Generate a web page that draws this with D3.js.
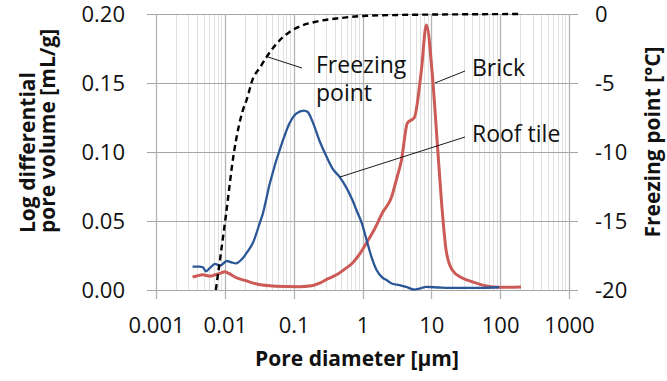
<!DOCTYPE html>
<html><head><meta charset="utf-8">
<script src="https://cdn.jsdelivr.net/npm/d3@7"></script>
<style>
html,body{margin:0;padding:0;background:#fff;}
svg{display:block;font-family:"Open Sans",sans-serif;}
</style></head>
<body>
<svg id="c" width="667" height="381"></svg>
<script>
// ---- data (pore diameter in µm) ----
const roofTileD = [0.0034,0.0043,0.0048,0.0053,0.0061,0.0072,0.0085,0.0107,0.0126,0.0144,0.0182,0.0215,0.0255,0.0322,0.0355,0.0449,0.0693,0.0875,0.110,0.140,0.160,0.188,0.238,0.301,0.367,0.464,0.586,0.716,0.847,0.968,1.18,1.35,1.60,1.95,2.23,2.72,3.44,4.34,5.67,6.70,8.47,13.1,23.0,49.6,96.8];
const roofTileV = [0.017,0.017,0.0165,0.0135,0.016,0.019,0.0176,0.021,0.020,0.0193,0.023,0.028,0.034,0.0486,0.055,0.077,0.108,0.121,0.128,0.130,0.129,0.122,0.108,0.0965,0.088,0.082,0.074,0.065,0.056,0.049,0.034,0.024,0.0145,0.009,0.0072,0.0045,0.0036,0.0022,0.0003,0.001,0.0022,0.0018,0.0015,0.0015,0.002];

const brickD = [0.0034,0.0039,0.0048,0.0061,0.0072,0.0085,0.010,0.0114,0.0149,0.0195,0.0291,0.0449,0.0741,0.122,0.182,0.238,0.311,0.420,0.548,0.716,0.906,1.14,1.49,1.95,2.63,3.11,3.68,4.49,5.67,7.16,8.47,10.3,12.2,14.0,16.5,20.1,28.1,39.3,62.7,96.8,201];
const brickV = [0.0094,0.0102,0.011,0.0101,0.011,0.012,0.0133,0.012,0.0087,0.007,0.0043,0.003,0.0025,0.0024,0.003,0.005,0.008,0.011,0.015,0.0196,0.026,0.034,0.044,0.056,0.067,0.080,0.094,0.121,0.125,0.159,0.192,0.157,0.1065,0.065,0.028,0.0145,0.0087,0.006,0.003,0.002,0.0022];

const freezeD = [0.0074,0.0103,0.0135,0.0182,0.0208,0.0255,0.0322,0.0406,0.0627,0.0875,0.122,0.215,0.464,1.14,3.44,18.2,188];
const freezeT = [-20,-14.7,-10.1,-7.0,-6.2,-4.7,-3.9,-3.1,-1.9,-1.3,-0.9,-0.55,-0.3,-0.13,-0.07,-0.03,0];

const xTicks = [0.001,0.01,0.1,1,10,100,1000];
const xTickLabels = ["0.001","0.01","0.1","1","10","100","1000"];
const yLeftTicks = [0,0.05,0.10,0.15,0.20];
const yLeftLabels = ["0.00","0.05","0.10","0.15","0.20"];
const yRightTicks = [-20,-15,-10,-5,0];
const yRightLabels = ["-20","-15","-10","-5","0"];

// ---- layout ----
const L=156, R=569, T=14, B=290;
const svg = d3.select("#c");
const x = d3.scaleLog().domain([0.001,1000]).range([L,R]);
const y = d3.scaleLinear().domain([0,0.2]).range([B,T]);
const yR = d3.scaleLinear().domain([-20,0]).range([B,T]);

// minor vertical gridlines
const minor=[];
for(let e=-3;e<3;e++){for(let m=2;m<=9;m++){minor.push(m*Math.pow(10,e));}}
svg.append("g").selectAll("line").data(minor).join("line")
  .attr("x1",d=>x(d)).attr("x2",d=>x(d)).attr("y1",T).attr("y2",B)
  .attr("stroke","#e0e0e0").attr("stroke-width",1).attr("shape-rendering","crispEdges");
// major horizontal gridlines
svg.append("g").selectAll("line").data(yLeftTicks).join("line")
  .attr("x1",L-9).attr("x2",R+9).attr("y1",d=>Math.round(y(d))+0.5).attr("y2",d=>Math.round(y(d))+0.5)
  .attr("stroke","#a6a6a6").attr("stroke-width",1);
// major vertical gridlines
svg.append("g").selectAll("line").data(xTicks).join("line")
  .attr("x1",d=>Math.round(x(d))+0.5).attr("x2",d=>Math.round(x(d))+0.5).attr("y1",T).attr("y2",B+9)
  .attr("stroke","#b4b4b4").attr("stroke-width",1.3);

// axes labels
const fs = 22;
const xAxis = d3.axisBottom(x).tickValues(xTicks).tickFormat((d,i)=>xTickLabels[i]).tickSize(0).tickPadding(0);
const gx = svg.append("g").attr("transform",`translate(0,${B})`).call(xAxis);
gx.select(".domain").remove();
gx.selectAll("text").attr("y",0).attr("dy",43).attr("font-size",fs).attr("fill","#111").attr("font-family","Open Sans");

const yAxis = d3.axisLeft(y).tickValues(yLeftTicks).tickFormat((d,i)=>yLeftLabels[i]).tickSize(0).tickPadding(0);
const gy = svg.append("g").attr("transform",`translate(125,0)`).call(yAxis);
gy.select(".domain").remove();
gy.selectAll("text").attr("x",0).attr("dy","0.36em").attr("font-size",fs).attr("fill","#111").attr("font-family","Open Sans");

const yrAxis = d3.axisRight(yR).tickValues(yRightTicks).tickFormat((d,i)=>yRightLabels[i]).tickSize(0).tickPadding(0);
const gyr = svg.append("g").attr("transform",`translate(595,0)`).call(yrAxis);
gyr.select(".domain").remove();
gyr.selectAll("text").attr("x",0).attr("dy","0.36em").attr("font-size",fs).attr("fill","#111").attr("font-family","Open Sans");

// clip
svg.append("clipPath").attr("id","clip").append("rect").attr("x",L).attr("y",T-3).attr("width",R-L).attr("height",B-T+3);

// series
const lineV = d3.line().x(d=>x(d[0])).y(d=>y(d[1])).curve(d3.curveMonotoneX);
const lineT = d3.line().x(d=>x(d[0])).y(d=>yR(d[1])).curve(d3.curveMonotoneX);

svg.append("path").datum(d3.zip(brickD,brickV)).attr("d",lineV)
  .attr("fill","none").attr("stroke","#cc5a57").attr("stroke-width",3).attr("stroke-linejoin","round");
svg.append("path").datum(d3.zip(roofTileD,roofTileV)).attr("d",lineV)
  .attr("fill","none").attr("stroke","#2b5797").attr("stroke-width",2.3).attr("stroke-linejoin","round");
svg.append("path").datum(d3.zip(freezeD,freezeT)).attr("d",lineT).attr("clip-path","url(#clip)")
  .attr("fill","none").attr("stroke","#000").attr("stroke-width",2.4).attr("stroke-dasharray","6,4");

// annotations
const ann = svg.append("g").attr("font-size",23).attr("fill","#111").attr("font-family","Open Sans");
ann.append("text").attr("x",316).attr("y",73).text("Freezing");
ann.append("text").attr("x",316).attr("y",101).text("point");
ann.append("text").attr("x",472).attr("y",76).text("Brick");
ann.append("text").attr("x",472).attr("y",142).text("Roof tile");
const leaders=[[268,57,302,68],[435,83,465,71],[340,177,465,137]];
svg.append("g").selectAll("line").data(leaders).join("line")
  .attr("x1",d=>d[0]).attr("y1",d=>d[1]).attr("x2",d=>d[2]).attr("y2",d=>d[3])
  .attr("stroke","#000").attr("stroke-width",0.9);

// axis titles
const tt = svg.append("g").attr("font-size",21).attr("font-weight","bold").attr("fill","#111").attr("font-family","Open Sans");
tt.append("text").attr("transform","translate(35,233) rotate(-90)").text("Log differential");
tt.append("text").attr("transform","translate(55,233) rotate(-90)").text("pore volume [mL/g]");
tt.append("text").attr("transform","translate(660,142) rotate(-90)").attr("text-anchor","middle").text("Freezing point [°C]");
tt.append("text").attr("x",357).attr("y",366).attr("text-anchor","middle").text("Pore diameter [μm]");
</script>
</body></html>
